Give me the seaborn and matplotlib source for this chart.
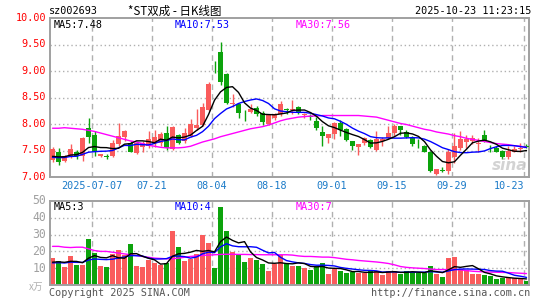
import numpy as np
import pandas as pd
import matplotlib
matplotlib.use("Agg")
import matplotlib.pyplot as plt
import seaborn as sns

# ---------------- data ----------------
tick_idx = [7, 17, 27, 37, 47, 57, 67, 79]
tick_labels = ["2025-07-07", "07-21", "08-04", "08-18", "09-01", "09-15", "09-29", "10-23"]

opens = [7.33, 7.47, 7.31, 7.39, 7.48, 7.39, 7.92, 7.80, 7.40, 7.39,
         7.39, 7.62, 7.76, 7.64, 7.45, 7.57, 7.58, 7.64, 7.64, 7.83,
         7.52, 7.80, 7.67, 7.78, 7.92, 7.99, 8.27, 9.19, 9.36, 8.95,
         8.38, 8.38, 8.21, 8.23, 8.30, 8.21, 8.00, 8.11, 8.18, 8.29,
         8.27, 8.32, 8.17, 8.16, 8.06, 7.85, 7.73, 7.82, 8.02, 7.91,
         7.67, 7.56, 7.64, 7.70, 7.51, 7.68, 7.73, 7.83, 7.96, 7.85,
         7.73, 7.61, 7.59, 7.48, 7.05, 7.13, 7.11, 7.37, 7.54, 7.66,
         7.68, 7.63, 7.80, 7.57, 7.54, 7.49, 7.37, 7.48, 7.53, 7.58]
highs = [7.56, 7.54, 7.42, 7.62, 7.51, 7.75, 8.11, 7.86, 7.44, 7.43,
         7.70, 8.02, 7.88, 7.67, 7.66, 7.67, 7.86, 7.89, 7.85, 7.96,
         7.96, 7.81, 7.92, 8.09, 8.28, 8.40, 8.80, 9.19, 9.55, 8.97,
         8.56, 8.39, 8.27, 8.37, 8.34, 8.24, 8.19, 8.21, 8.44, 8.30,
         8.46, 8.34, 8.21, 8.18, 8.14, 7.96, 7.81, 8.04, 8.08, 7.92,
         7.67, 7.63, 7.76, 7.72, 7.86, 7.76, 7.96, 8.00, 7.96, 7.89,
         7.77, 7.72, 7.61, 7.49, 7.16, 7.18, 7.53, 7.83, 7.86, 7.80,
         7.80, 7.73, 7.89, 7.61, 7.58, 7.51, 7.58, 7.58, 7.64, 7.62]
lows = [7.28, 7.23, 7.29, 7.35, 7.34, 7.30, 7.64, 7.39, 7.37, 7.34,
        7.37, 7.59, 7.67, 7.47, 7.43, 7.48, 7.54, 7.56, 7.58, 7.51,
        7.51, 7.63, 7.64, 7.76, 7.89, 7.96, 8.25, 8.97, 8.73, 8.38,
        8.33, 8.11, 8.06, 8.21, 8.16, 7.99, 7.99, 8.08, 8.15, 8.18,
        8.18, 8.18, 8.12, 8.08, 7.89, 7.58, 7.64, 7.72, 7.77, 7.68,
        7.51, 7.42, 7.60, 7.54, 7.50, 7.58, 7.72, 7.77, 7.80, 7.73,
        7.58, 7.54, 7.47, 7.09, 7.03, 7.10, 7.05, 7.26, 7.51, 7.54,
        7.62, 7.47, 7.66, 7.48, 7.47, 7.34, 7.34, 7.47, 7.48, 7.54]
closes = [7.52, 7.29, 7.39, 7.52, 7.39, 7.73, 7.75, 7.48, 7.43, 7.38,
          7.64, 7.78, 7.87, 7.48, 7.64, 7.64, 7.72, 7.75, 7.82, 7.54,
          7.94, 7.64, 7.83, 8.00, 7.98, 8.33, 8.75, 9.18, 8.79, 8.40,
          8.40, 8.21, 8.20, 8.29, 8.18, 8.04, 8.18, 8.18, 8.37, 8.27,
          8.29, 8.20, 8.19, 8.13, 7.92, 7.78, 7.81, 8.02, 7.89, 7.70,
          7.58, 7.63, 7.73, 7.56, 7.72, 7.72, 7.83, 7.97, 7.89, 7.75,
          7.62, 7.60, 7.48, 7.11, 7.15, 7.12, 7.48, 7.58, 7.72, 7.72,
          7.73, 7.64, 7.67, 7.56, 7.48, 7.37, 7.49, 7.53, 7.54, 7.57]
volumes = [16.0, 14.0, 11.0, 17.0, 12.2, 12.2, 27.3, 18.8, 11.6, 11.0,
           18.6, 20.9, 17.6, 24.7, 11.6, 10.6, 15.0, 13.0, 12.0, 13.0,
           32.4, 22.5, 14.2, 15.6, 18.2, 29.7, 24.9, 10.0, 46.3, 32.0,
           19.5, 17.6, 13.6, 16.0, 15.0, 12.4, 8.6, 12.6, 17.6, 12.6,
           11.6, 11.6, 10.4, 9.2, 11.2, 12.8, 6.8, 9.6, 8.6, 7.2,
           7.6, 7.2, 7.2, 8.4, 8.6, 5.7, 8.6, 8.4, 6.3, 8.6,
           7.6, 7.2, 7.2, 11.6, 6.3, 4.5, 15.8, 16.4, 9.6, 9.2,
           6.8, 6.3, 5.7, 5.1, 3.3, 3.9, 4.1, 3.9, 4.1, 2.1]
prior_closes = [7.34, 7.36, 7.33, 7.35, 7.37, 7.34, 7.38, 7.36, 7.35]
prior_volumes = [12.5, 13.0, 12.0, 13.5, 12.5, 13.0, 12.5, 14.0, 12.5]
ma30_price = [7.92, 7.92, 7.93, 7.92, 7.91, 7.90, 7.88, 7.86, 7.83, 7.80,
              7.77, 7.74, 7.71, 7.68, 7.66, 7.63, 7.60, 7.58, 7.56, 7.55,
              7.55, 7.55, 7.56, 7.58, 7.62, 7.66, 7.69, 7.72, 7.76, 7.79,
              7.82, 7.85, 7.88, 7.91, 7.93, 7.95, 7.98, 8.02, 8.06, 8.09,
              8.11, 8.13, 8.14, 8.15, 8.15, 8.16, 8.16, 8.16, 8.16, 8.16,
              8.16, 8.16, 8.15, 8.14, 8.13, 8.10, 8.07, 8.04, 8.01, 7.99,
              7.96, 7.93, 7.90, 7.88, 7.85, 7.83, 7.81, 7.78, 7.76, 7.73,
              7.71, 7.69, 7.67, 7.65, 7.63, 7.62, 7.61, 7.59, 7.58, 7.56]
ma30_volume = [23.0, 23.0, 22.5, 22.3, 22.5, 22.5, 21.5, 20.5, 20.0, 20.0,
               19.5, 19.0, 18.5, 18.0, 17.5, 17.0, 16.5, 16.0, 15.8, 15.6,
               15.6, 16.0, 16.5, 17.0, 17.3, 17.6, 17.8, 18.0, 18.2, 18.3,
               18.3, 18.2, 18.2, 18.1, 18.1, 18.0, 18.0, 18.0, 18.0, 18.0,
               17.8, 17.3, 17.0, 17.0, 16.8, 16.6, 16.6, 16.3, 15.8, 15.3,
               15.0, 14.6, 14.3, 14.0, 13.7, 13.3, 12.8, 12.0, 11.0, 10.5,
               10.2, 10.0, 9.8, 9.5, 9.2, 9.2, 9.2, 9.2, 9.0, 8.6,
               8.2, 8.0, 7.8, 7.7, 7.6, 7.5, 7.4, 7.2, 7.0, 6.8]
price_ticks = [10.0, 9.5, 9.0, 8.5, 8.0, 7.5, 7.0]
volume_ticks = [50, 40, 30, 20, 10]

# ---------------- derived ----------------
n = len(closes)
idx = np.arange(n)
cl_all = pd.Series(prior_closes + closes)
vo_all = pd.Series(prior_volumes + volumes)
df = pd.DataFrame({
    "i": idx,
    "open": opens, "high": highs, "low": lows, "close": closes, "vol": volumes,
    "ma5": cl_all.rolling(5).mean().values[len(prior_closes):],
    "ma10": cl_all.rolling(10).mean().values[len(prior_closes):],
    "ma30": ma30_price,
    "vma5": vo_all.rolling(5).mean().values[len(prior_volumes):],
    "vma10": vo_all.rolling(10).mean().values[len(prior_volumes):],
    "vma30": ma30_volume,
})
RED = "#fa5c5c"
GREEN = "#0ca30c"
up = np.array(closes) >= np.array(opens)
colors = [RED if u else GREEN for u in up]

sns.set_style("white")
plt.rcParams["font.family"] = ["DejaVu Sans Mono", "Noto Sans CJK SC"]

fig = plt.figure(figsize=(5.45, 3.0), dpi=100)
W, H = 545.0, 300.0
ax = fig.add_axes([50 / W, (H - 177) / H, 479 / W, 159 / H])
axv = fig.add_axes([50 / W, (H - 285) / H, 479 / W, 84 / H])

xlim = (-0.42, 79.42)
GRID = "#b0b0b0"
for a in (ax, axv):
    a.set_xlim(*xlim)
    for s in a.spines.values():
        s.set_color("#a0a0a0")
        s.set_linewidth(1.4)
    a.set_xticks([])
    a.set_yticks([])
    for t in tick_idx:
        a.axvline(t - 0.42, color=GRID, lw=1.0, ls=(0, (4, 3)), zorder=0)

# price panel
ax.set_ylim(7.0, 10.0)
for p in price_ticks[1:-1]:
    ax.axhline(p, color=GRID, lw=1.0, ls=(0, (1, 2)), zorder=0)
ax.vlines(df["i"], df["low"], df["high"], colors=colors, lw=1.0, zorder=2)
body_bottom = np.minimum(df["open"], df["close"])
body_h = np.maximum(np.abs(df["close"] - df["open"]), 0.012)
ax.bar(df["i"], body_h, bottom=body_bottom, width=0.72, color=colors, linewidth=0, zorder=3)
sns.lineplot(data=df, x="i", y="ma30", ax=ax, color="#ff00ff", lw=1.0, zorder=4)
sns.lineplot(data=df, x="i", y="ma10", ax=ax, color="#0000ff", lw=1.0, zorder=5)
sns.lineplot(data=df, x="i", y="ma5", ax=ax, color="#000000", lw=1.0, zorder=6)
ax.set_xlabel("")
ax.set_ylabel("")

# volume panel
axv.set_ylim(0, 50)
for v in volume_ticks[1:]:
    axv.axhline(v, color=GRID, lw=1.0, ls=(0, (1, 2)), zorder=0)
axv.bar(df["i"], df["vol"], width=0.83, color=colors, linewidth=0, zorder=2)
sns.lineplot(data=df, x="i", y="vma30", ax=axv, color="#ff00ff", lw=1.0, zorder=4)
sns.lineplot(data=df, x="i", y="vma10", ax=axv, color="#0000ff", lw=1.0, zorder=5)
sns.lineplot(data=df, x="i", y="vma5", ax=axv, color="#000000", lw=1.0, zorder=6)
axv.set_xlabel("")
axv.set_ylabel("")

for a in (ax, axv):
    a.set_xticks([])
    a.set_yticks([])

FS = 7.3
# y labels
for p in price_ticks:
    y = ax.transData.transform((0, p))[1]
    fig.text(46 / W, ax.transAxes.inverted().transform((0, y))[1] * (159 / H) + (H - 177) / H,
             f"{p:.2f}", ha="right", va="center", color="#ff0000", fontsize=FS)
for v in volume_ticks:
    yf = (H - 285) / H + (v / 50) * (84 / H)
    fig.text(46 / W, yf, f"{v}", ha="right", va="center", color="#a0a0a0", fontsize=FS + 1)
fig.text(43 / W, (H - 287) / H, "x万", ha="right", va="center", color="#b0b0b0",
         fontsize=7, family=["Noto Sans CJK SC", "DejaVu Sans"])

# x labels
for t, lab in zip(tick_idx, tick_labels):
    xf = (50 + (t - 0.42 - xlim[0]) / (xlim[1] - xlim[0]) * 479) / W
    ha = "center"
    if t == tick_idx[-1]:
        xf, ha = 524 / W, "right"
    fig.text(xf, (H - 186) / H, lab, ha=ha, va="center", color="#1a7ac8", fontsize=FS)

# headers
fig.text(49 / W, (H - 11) / H, "sz002693", ha="left", va="center", color="#000000", fontsize=FS)
fig.text(175 / W, (H - 11) / H, "*ST双成 - 日K线图", ha="center", va="center", color="#000000",
         fontsize=8.3, family=["Noto Sans CJK SC", "DejaVu Sans"])
fig.text(531 / W, (H - 11) / H, "2025-10-23 11:23:15", ha="right", va="center", color="#000000", fontsize=FS)

fig.text(54 / W, (H - 25) / H, "MA5:7.48", ha="left", va="center", color="#000000", fontsize=FS)
fig.text(175 / W, (H - 25) / H, "MA10:7.53", ha="left", va="center", color="#0000ff", fontsize=FS)
fig.text(296 / W, (H - 25) / H, "MA30:7.56", ha="left", va="center", color="#ff00ff", fontsize=FS)
fig.text(54 / W, (H - 207) / H, "MA5:3", ha="left", va="center", color="#000000", fontsize=FS)
fig.text(175 / W, (H - 207) / H, "MA10:4", ha="left", va="center", color="#0000ff", fontsize=FS)
fig.text(296 / W, (H - 207) / H, "MA30:7", ha="left", va="center", color="#ff00ff", fontsize=FS)

fig.text(49 / W, (H - 293) / H, "Copyright 2025 SINA.COM", ha="left", va="center", color="#555555", fontsize=FS)
fig.text(530 / W, (H - 293) / H, "http://finance.sina.com.cn", ha="right", va="center", color="#555555", fontsize=FS)

fig.text(527 / W, (H - 165) / H, "sina", ha="right", va="center", color="#c8c8c8",
         fontsize=11, fontstyle="italic", fontweight="bold", family="DejaVu Sans", alpha=0.8)

fig.savefig("out.png", dpi=100, facecolor="white")
